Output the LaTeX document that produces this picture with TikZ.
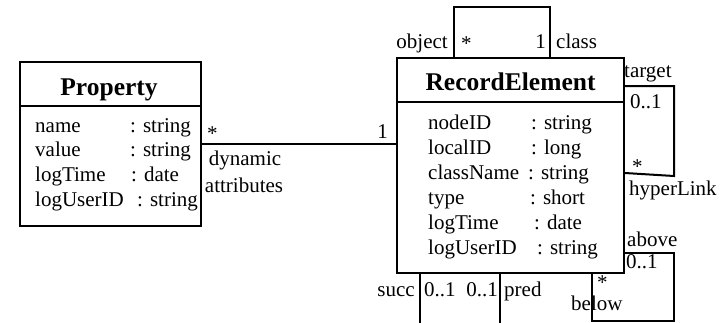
\documentclass[tikz,border=0pt]{standalone}
\usepackage{fontspec}
\setmainfont{Liberation Serif}
\usetikzlibrary{calc}
\begin{document}
\begin{tikzpicture}[x=1pt,y=-1pt,
  box/.style={draw,line width=2pt,inner sep=0pt},
  line/.style={line width=2pt},
  rule/.style={line width=1.6pt},
  txt/.style={inner sep=0pt,text height=15pt,text depth=4pt,font=\fontsize{21}{24}\selectfont},
  star/.style={inner sep=0pt,anchor=base west,font=\fontsize{21}{24}\selectfont},
  ttl/.style={inner sep=0pt,anchor=base,font=\fontsize{25.5}{28}\selectfont\bfseries},
  lw/.style={txt,anchor=west},
  le/.style={txt,anchor=east}]
\clip (0,0) rectangle (722,322);

% class boxes
\node[box,minimum width=181,minimum height=164] (prop) at (110.5,144) {};
\node[box,minimum width=227,minimum height=215] (rec) at (510.5,165.5) {};

% compartment rules
\coordinate (ph) at (20,106);
\coordinate (rh) at (397,102);
\draw[rule] (ph -| prop.west) -- (ph -| prop.east);
\draw[rule] (rh -| rec.west) -- (rh -| rec.east);

% titles
\node[ttl] (propT) at (109,95) {Property};
\node[ttl] (recT) at (510.5,90) {RecordElement};

% Property attributes
\node[lw] (pa1) at (35,126.5) {name};      \node[lw] (pt1) at (130,126.5) {: string};
\node[lw] (pa2) at (35,151) {value};       \node[lw] (pt2) at (130,151) {: string};
\node[lw] (pa3) at (35,176) {logTime};     \node[lw] (pt3) at (131,176) {: date};
\node[lw] (pa4) at (35,201) {logUserID};   \node[lw] (pt4) at (137,201) {: string};

% RecordElement attributes
\node[lw] (ra1) at (428,123.5) {nodeID};    \node[lw] (rt1) at (531,123.5) {: string};
\node[lw] (ra2) at (428,148.5) {localID};   \node[lw] (rt2) at (531,148.5) {: long};
\node[lw] (ra3) at (428,173.5) {className}; \node[lw] (rt3) at (528,173.5) {: string};
\node[lw] (ra4) at (428,198.5) {type};      \node[lw] (rt4) at (530,198.5) {: short};
\node[lw] (ra5) at (428,223.5) {logTime};   \node[lw] (rt5) at (534,223.5) {: date};
\node[lw] (ra6) at (428,248.5) {logUserID}; \node[lw] (rt6) at (537,248.5) {: string};

% association Property -- RecordElement
\draw[line] (prop.east) -- (prop.east -| rec.west);
\node[star] (m1) at (207,140) {*};
\node[le] (m2) at (388,132.5) {1};
\node[txt] (n1) at (245,159.5) {dynamic};
\node[txt] (n2) at (244,186.5) {attributes};

% object / class loop on top
\coordinate (ta) at (454,7);
\coordinate (tb) at (550,7);
\draw[line] (ta |- rec.north) -- (ta) -- (tb) -- (tb |- rec.north);
\node[le] (lobj) at (448,42.5) {object};
\node[star] (lst1) at (461,50) {*};
\node[le] (lone) at (546,42.5) {1};
\node[lw] (lcls) at (556,42.5) {class};

% target / hyperLink loop on the right
\coordinate (ra) at (674,86);
\coordinate (rb) at (674,176);
\draw[line] (rec.east |- ra) -- (ra) -- (rb) -- ($(rec.east |- rb)+(0,-3)$);
\node[lw] (ltg) at (624,71.5) {target};
\node[lw] (l01a) at (630,102.5) {0..1};
\node[star] (lst2) at (632,173) {*};
\node[lw] (lhl) at (629,189.5) {hyperLink};

% above / below loop at the lower right
\coordinate (ba) at (674,253);
\coordinate (bb) at (674,321);
\coordinate (bc) at (592,321);
\draw[line] (rec.east |- ba) -- (ba) -- (bb) -- (bc) -- (bc |- rec.south);
\node[lw] (lab) at (627,240.5) {above};
\node[lw] (l01b) at (626,262.5) {0..1};
\node[star] (lst3) at (597,289) {*};
\node[lw,text height=13pt] (lbl) at (571,306) {below};

% succ / pred association leaving downwards
\coordinate (sa) at (420,330);
\coordinate (sb) at (500,330);
\draw[line] (sa |- rec.south) -- (sa);
\draw[line] (sb |- rec.south) -- (sb);
\node[le] (lsucc) at (415,290.5) {succ};
\node[lw] (l01c) at (424,290.5) {0..1};
\node[le] (l01d) at (498,290.5) {0..1};
\node[lw] (lpred) at (504,290.5) {pred};
\end{tikzpicture}
\end{document}
